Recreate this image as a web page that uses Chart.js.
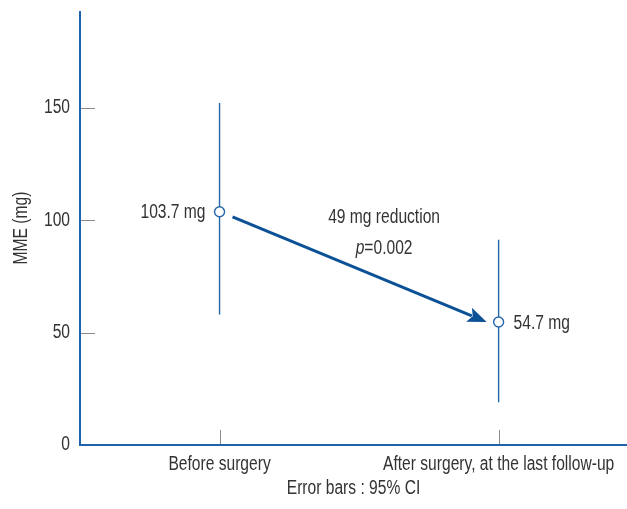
<!DOCTYPE html>
<html>
<head>
<meta charset="utf-8">
<script src="https://cdn.jsdelivr.net/npm/chart.js@4/dist/chart.umd.min.js"></script>
<style>
  html, body { margin: 0; padding: 0; background: #fff; }
  #wrap { width: 627px; height: 509px; position: relative; }
</style>
</head>
<body>
<div id="wrap"><canvas id="c" width="627" height="509"></canvas></div>
<script>
// Morphine milligram equivalents, mean with 95% CI
const categories = ['Before surgery', 'After surgery, at the last follow-up'];
const positions = [1, 2];
const meanMME = [103.7, 54.7];
const ciLower = [58.0, 19.0];
const ciUpper = [152.1, 91.3];
const yTicks = [0, 50, 100, 150];
const pointLabels = ['103.7 mg', '54.7 mg'];
const changeText = ['49 mg reduction', 'p=0.002'];

const FONT = "'Liberation Sans', Arial, sans-serif";
const FSIZE = 19.5;
const NARROW = 0.8;          // horizontal squeeze for a narrow typeface look
const TEXT = '#333333';
const AXIS_BLUE = '#1f64aa';
const MARK_BLUE = '#2566ab';
const ARROW_BLUE = '#0c5196';

const errorBarSets = positions.map((x, i) => ({
  type: 'line',
  data: [{ x: x, y: ciLower[i] }, { x: x, y: ciUpper[i] }],
  borderColor: MARK_BLUE,
  borderWidth: 1.4,
  pointRadius: 0,
  showLine: true,
  order: 2
}));

const meanSet = {
  type: 'scatter',
  data: positions.map((x, i) => ({ x: x, y: meanMME[i] })),
  pointRadius: 5,
  pointBorderWidth: 1.4,
  pointBorderColor: MARK_BLUE,
  pointBackgroundColor: '#ffffff',
  showLine: false,
  order: 1
};

// all text on this canvas is drawn narrowed around its anchor point
const narrowText = {
  id: 'narrowText',
  beforeInit(chart) {
    const ctx = chart.ctx;
    const orig = ctx.fillText.bind(ctx);
    ctx.fillText = function (t, x, y, mw) {
      ctx.save();
      ctx.translate(x, y);
      ctx.scale(NARROW, 1);
      if (mw !== undefined) orig(t, 0, 0, mw / NARROW); else orig(t, 0, 0);
      ctx.restore();
    };
  }
};

// inward tick marks, axis lines, annotations and the change arrow
const decorations = {
  id: 'decorations',
  afterDatasetsDraw(chart) {
    const ctx = chart.ctx;
    const xs = chart.scales.x, ys = chart.scales.y;
    const area = chart.chartArea;
    ctx.save();
    ctx.strokeStyle = '#8a8a8a';
    ctx.lineWidth = 1;
    yTicks.slice(1).forEach(v => {
      const py = Math.round(ys.getPixelForValue(v)) + 0.5;
      ctx.beginPath();
      ctx.moveTo(area.left, py);
      ctx.lineTo(area.left + 15, py);
      ctx.stroke();
    });
    positions.forEach(v => {
      const px = Math.round(xs.getPixelForValue(v)) + 0.5;
      ctx.beginPath();
      ctx.moveTo(px, area.bottom);
      ctx.lineTo(px, area.bottom - 15);
      ctx.stroke();
    });

    ctx.strokeStyle = AXIS_BLUE;
    ctx.lineWidth = 2;
    ctx.beginPath();
    ctx.moveTo(area.left, area.top);
    ctx.lineTo(area.left, area.bottom);
    ctx.lineTo(area.right, area.bottom);
    ctx.stroke();

    // arrow between the two means
    const p1 = { x: xs.getPixelForValue(positions[0]), y: ys.getPixelForValue(meanMME[0]) };
    const p2 = { x: xs.getPixelForValue(positions[1]), y: ys.getPixelForValue(meanMME[1]) };
    const dx = p2.x - p1.x, dy = p2.y - p1.y;
    const len = Math.hypot(dx, dy);
    const ux = dx / len, uy = dy / len;
    const start = { x: p1.x + 14 * ux, y: p1.y + 14 * uy };
    const tip = { x: p2.x - 12, y: p2.y };
    const ax = tip.x - start.x, ay = tip.y - start.y;
    const al = Math.hypot(ax, ay);
    const vx = ax / al, vy = ay / al;
    const headLen = 19, headW = 7.5;
    const base = { x: tip.x - headLen * vx, y: tip.y - headLen * vy };
    ctx.strokeStyle = ARROW_BLUE;
    ctx.fillStyle = ARROW_BLUE;
    ctx.lineWidth = 3;
    ctx.beginPath();
    ctx.moveTo(start.x, start.y);
    ctx.lineTo(base.x + 3 * vx, base.y + 3 * vy);
    ctx.stroke();
    ctx.beginPath();
    ctx.moveTo(tip.x, tip.y);
    ctx.lineTo(base.x - headW * vy, base.y + headW * vx);
    ctx.lineTo(base.x + 4 * vx, base.y + 4 * vy);
    ctx.lineTo(base.x + headW * vy, base.y - headW * vx);
    ctx.closePath();
    ctx.fill();

    // value labels
    ctx.fillStyle = TEXT;
    ctx.font = FSIZE + 'px ' + FONT;
    ctx.textBaseline = 'middle';
    ctx.textAlign = 'right';
    ctx.fillText(pointLabels[0], p1.x - 14, p1.y + 1);
    ctx.textAlign = 'left';
    ctx.fillText(pointLabels[1], p2.x + 15, p2.y + 2);

    // change annotation
    const cx = (p1.x + p2.x) / 2 + 25;
    ctx.textAlign = 'center';
    ctx.fillText(changeText[0], cx, p1.y + 6);
    const pPart = changeText[1].slice(0, 1);
    const rest = changeText[1].slice(1);
    ctx.font = 'italic ' + FSIZE + 'px ' + FONT;
    const wp = ctx.measureText(pPart).width * NARROW;
    ctx.font = FSIZE + 'px ' + FONT;
    const wr = ctx.measureText(rest).width * NARROW;
    const x0 = cx - (wp + wr) / 2;
    ctx.textAlign = 'left';
    ctx.font = 'italic ' + FSIZE + 'px ' + FONT;
    ctx.fillText(pPart, x0, p1.y + 37);
    ctx.font = FSIZE + 'px ' + FONT;
    ctx.fillText(rest, x0 + wp, p1.y + 37);
    ctx.restore();
  }
};

new Chart(document.getElementById('c'), {
  type: 'scatter',
  data: { datasets: [...errorBarSets, meanSet] },
  options: {
    responsive: false,
    animation: false,
    layout: { autoPadding: false, padding: { top: 11, right: 0, left: 0, bottom: 0 } },
    plugins: { legend: { display: false }, tooltip: { enabled: false } },
    scales: {
      x: {
        type: 'linear',
        min: 0.5,
        max: 2.46,
        afterBuildTicks(scale) { scale.ticks = positions.map(v => ({ value: v })); },
        ticks: {
          color: TEXT,
          font: { family: FONT, size: FSIZE },
          padding: 8,
          maxRotation: 0,
          minRotation: 0,
          autoSkip: false,
          callback: (v) => categories[positions.indexOf(v)] || ''
        },
        grid: { display: false, drawTicks: false },
        border: { display: false },
        title: {
          display: true,
          text: 'Error bars : 95% CI',
          color: TEXT,
          font: { family: FONT, size: FSIZE },
          padding: { top: 0, bottom: 9 },
          align: 'center'
        },
        afterFit(scale) {
          scale.height = 64;
          scale.paddingLeft = 0;
          scale.paddingRight = 0;
        }
      },
      y: {
        min: 0,
        max: 193,
        afterBuildTicks(scale) { scale.ticks = yTicks.map(v => ({ value: v })); },
        ticks: {
          color: TEXT,
          font: { family: FONT, size: FSIZE },
          padding: 10
        },
        grid: { display: false, drawTicks: false },
        border: { display: false },
        title: {
          display: true,
          text: 'MME (mg)',
          color: TEXT,
          font: { family: FONT, size: FSIZE },
          padding: { top: 10, bottom: 0 }
        },
        afterFit(scale) {
          scale.width = 80;
          scale.paddingTop = 0;
          scale.paddingBottom = 0;
        }
      }
    }
  },
  plugins: [narrowText, decorations]
});
</script>
</body>
</html>
